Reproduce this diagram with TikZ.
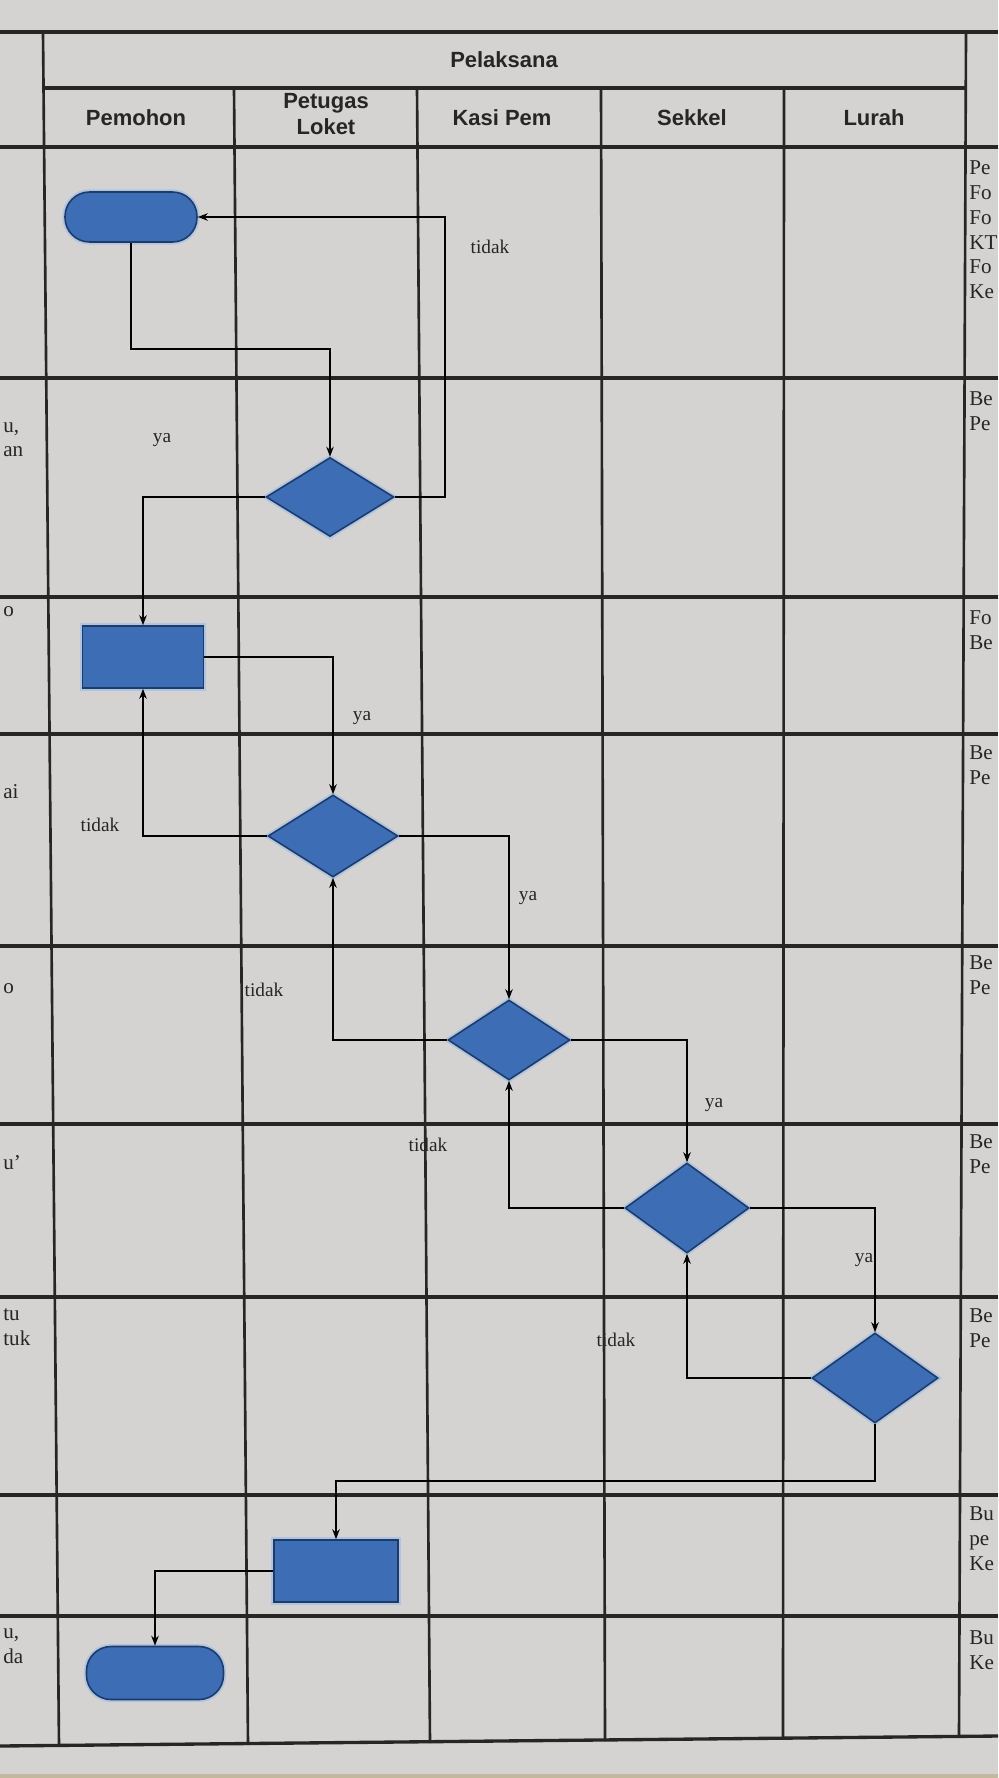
\documentclass[tikz,border=0pt]{standalone}
\usepackage{fontspec}
\setmainfont{Liberation Serif}
\setsansfont{Liberation Sans}
\usetikzlibrary{arrows.meta,shapes.geometric}
\definecolor{paper}{HTML}{D5D3D1}
\definecolor{ink}{HTML}{262626}
\definecolor{boxfill}{HTML}{3D6DB4}
\definecolor{rim}{HTML}{1E3B68}
\definecolor{halo}{HTML}{AFC4E0}
\definecolor{tape}{HTML}{C2B89E}

\begin{document}
\begin{tikzpicture}[
  x=0.2mm,y=-0.2mm,
  font=\rmfamily\fontsize{12}{14}\selectfont,
  text=ink,
  terminal/.style={draw=rim,fill=boxfill,line width=0.9pt,
    preaction={draw=halo,line width=3pt},
    rounded corners=4.9mm,minimum width=26.4mm,minimum height=10mm,inner sep=0pt},
  process/.style={draw=rim,fill=boxfill,line width=0.9pt,
    preaction={draw=halo,line width=3pt},
    minimum width=24.2mm,minimum height=12.4mm,inner sep=0pt},
  decision/.style={diamond,draw=rim,fill=boxfill,line width=0.9pt,
    preaction={draw=halo,line width=3pt},
    minimum width=25.6mm,minimum height=15.8mm,inner sep=0pt},
  head/.style={font=\sffamily\bfseries\fontsize{12.5}{15}\selectfont,align=center},
  answer/.style={font=\rmfamily\fontsize{11}{12}\selectfont,inner sep=1pt},
  memo/.style={font=\rmfamily\fontsize{12}{14.2}\selectfont,align=left,
    anchor=north west,inner sep=0pt},
  rowline/.style={draw=ink,line width=1.9pt},
  colline/.style={draw=ink,line width=1.5pt},
  flow/.style={-{Stealth[length=2mm,width=1.5mm]},draw=black,line width=0.9pt}
]
\useasboundingbox (0,0) rectangle (998,1778);
\fill[paper] (0,0) rectangle (998,1778);
\fill[tape] (0,1774) rectangle (998,1778);

% table rules
\draw[rowline,line width=2.6pt] (0,32) -- (998,32);
\draw[rowline] (43.5,88) -- (966,88);
\draw[rowline] (0,147) -- (998,147);
\draw[rowline] (0,378) -- (998,378);
\draw[rowline] (0,597) -- (998,597);
\draw[rowline] (0,734) -- (998,734);
\draw[rowline] (0,946) -- (998,946);
\draw[rowline] (0,1124) -- (998,1124);
\draw[rowline] (0,1297) -- (998,1297);
\draw[rowline] (0,1495) -- (998,1495);
\draw[rowline] (0,1616) -- (998,1616);
\draw[rowline] (0,1746) -- (998,1736);
\draw[colline] (43,32) -- (59,1746);
\draw[colline] (234,88) -- (248,1745);
\draw[colline] (417,88) -- (430,1743);
\draw[colline] (601,88) -- (605,1741);
\draw[colline] (784,88) -- (783,1739);
\draw[colline] (966,32) -- (959,1736);

% header
\node[head] (pelaksana) at (504,60) {Pelaksana};
\node[head] (pemohon) at (136,118) {Pemohon};
\node[head] (loket) at (326,114) {Petugas\\Loket};
\node[head] (kasipem) at (502,118) {Kasi Pem};
\node[head] (sekkel) at (692,118) {Sekkel};
\node[head] (lurah) at (874,118) {Lurah};

% cut-off text, left column
\node[memo] (stub2) at (3,422) {u,\\an};
\node[memo] (stub3) at (3,606) {o};
\node[memo] (stub4) at (3,784) {ai};
\node[memo] (stub5) at (3,983) {o};
\node[memo] (stub6) at (3,1155) {u'};
\node[memo] (stub7) at (3,1308) {tu\\tuk};
\node[memo] (stub9) at (3,1628) {u,\\da};

% cut-off text, right column
\node[memo] (memo1) at (969,160) {Pe\\Fo\\Fo\\KT\\Fo\\Ke};
\node[memo] (memo2) at (969,391) {Be\\Pe};
\node[memo] (memo3) at (969,610) {Fo\\Be};
\node[memo] (memo4) at (969,745) {Be\\Pe};
\node[memo] (memo5) at (969,955) {Be\\Pe};
\node[memo] (memo6) at (969,1134) {Be\\Pe};
\node[memo] (memo7) at (969,1308) {Be\\Pe};
\node[memo] (memo8) at (969,1506) {Bu\\pe\\Ke};
\node[memo] (memo9) at (969,1630) {Bu\\Ke};

% flow
\node[terminal] (start) at (131,217) {};
\node[decision] (cekberkas) at (330,497) {};
\node[process] (isiform) at (143,657) {};
\node[decision,minimum width=26mm,minimum height=16.4mm] (cekloket) at (333,836) {};
\node[decision,minimum width=24.4mm,minimum height=16mm] (cekkasi) at (509,1040) {};
\node[decision,minimum width=24.8mm,minimum height=18mm] (ceksekkel) at (687,1208) {};
\node[decision,minimum width=25.2mm,minimum height=18mm] (ceklurah) at (875,1378) {};
\node[process,minimum width=24.8mm] (serah) at (336,1571) {};
\node[terminal,minimum width=27.4mm,minimum height=10.6mm] (selesai) at (155,1673) {};

\draw[flow] (start.south) -- ++(0,106) -| (cekberkas.north);
\draw[flow] (cekberkas.east) -- ++(50,0) |- (start.east);
\draw[flow] (cekberkas.west) -| (isiform.north);
\draw[flow] (isiform.east) -| (cekloket.north);
\draw[flow] (cekloket.west) -| (isiform.south);
\draw[flow] (cekloket.east) -| (cekkasi.north);
\draw[flow] (cekkasi.west) -| (cekloket.south);
\draw[flow] (cekkasi.east) -| (ceksekkel.north);
\draw[flow] (ceksekkel.west) -| (cekkasi.south);
\draw[flow] (ceksekkel.east) -| (ceklurah.north);
\draw[flow] (ceklurah.west) -| (ceksekkel.south);
\draw[flow] (ceklurah.south) -- ++(0,57) -| (serah.north);
\draw[flow] (serah.west) -| (selesai.north);

\node[answer] (tidak1) at (490,247) {tidak};
\node[answer] (ya1) at (162,440) {ya};
\node[answer] (ya2) at (362,718) {ya};
\node[answer] (tidak2) at (100,825) {tidak};
\node[answer] (ya3) at (528,898) {ya};
\node[answer] (tidak3) at (264,990) {tidak};
\node[answer] (ya4) at (714,1105) {ya};
\node[answer] (tidak4) at (428,1145) {tidak};
\node[answer] (ya5) at (864,1260) {ya};
\node[answer] (tidak5) at (616,1340) {tidak};
\end{tikzpicture}
\end{document}
